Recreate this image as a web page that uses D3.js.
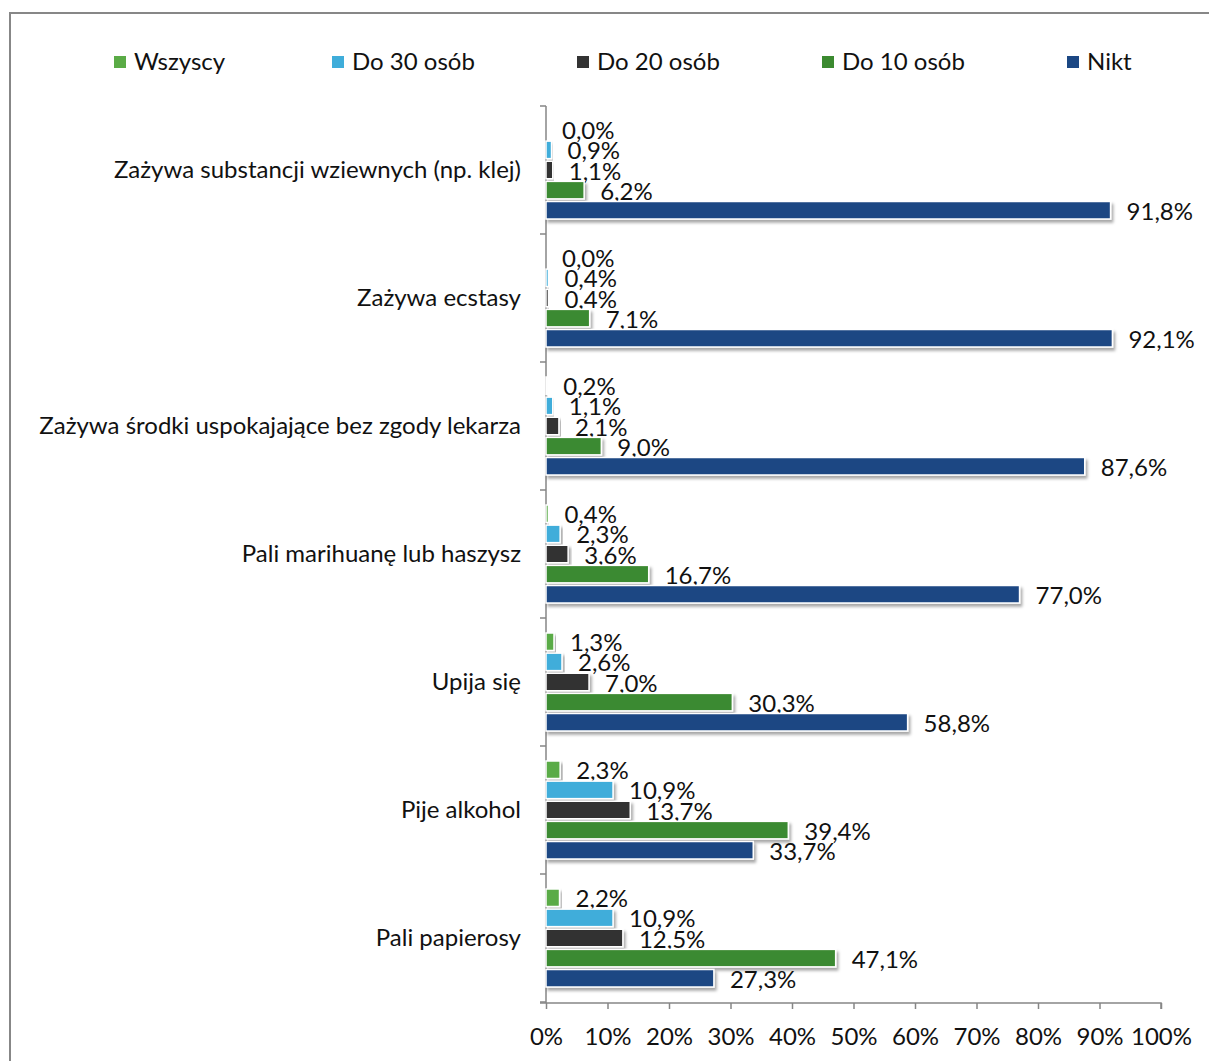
<!DOCTYPE html>
<html><head><meta charset="utf-8">
<script src="https://cdn.jsdelivr.net/npm/d3@7"></script>
<style>body{margin:0;background:#fff}svg{display:block}text{font-family:Lato,"Open Sans",sans-serif;fill:#111}</style>
</head><body>
<svg id="c" width="1209" height="1061"></svg>
<script>
const categories = [
  "Zażywa substancji wziewnych (np. klej)",
  "Zażywa ecstasy",
  "Zażywa środki uspokajające bez zgody lekarza",
  "Pali marihuanę lub haszysz",
  "Upija się",
  "Pije alkohol",
  "Pali papierosy"
];
const seriesNames = ["Wszyscy", "Do 30 osób", "Do 20 osób", "Do 10 osób", "Nikt"];
const wszyscy  = [0.0, 0.0, 0.2, 0.4, 1.3, 2.3, 2.2];
const do30     = [0.9, 0.4, 1.1, 2.3, 2.6, 10.9, 10.9];
const do20     = [1.1, 0.4, 2.1, 3.6, 7.0, 13.7, 12.5];
const do10     = [6.2, 7.1, 9.0, 16.7, 30.3, 39.4, 47.1];
const nikt     = [91.8, 92.1, 87.6, 77.0, 58.8, 33.7, 27.3];
const seriesValues = [wszyscy, do30, do20, do10, nikt];
const xTicks = [0, 10, 20, 30, 40, 50, 60, 70, 80, 90, 100];
const colors = ["#5aab46", "#3fadda", "#333333", "#3b8a30", "#1b4783"];
const FS = "24px";

const svg = d3.select("#c");
const defs = svg.append("defs");
const f = defs.append("filter").attr("id","sh").attr("x","-5%").attr("y","-50%").attr("width","120%").attr("height","250%");
f.append("feDropShadow").attr("dx",2).attr("dy",3).attr("stdDeviation",1.8).attr("flood-color","#000").attr("flood-opacity",0.35);

// frame
svg.append("rect").attr("x",10).attr("y",13).attr("width",1260).attr("height",1100)
  .attr("fill","none").attr("stroke","#878787").attr("stroke-width",2);

const x = d3.scaleLinear().domain([0,100]).range([546,1161]);
const y = d3.scaleBand().domain(categories).range([106,1002]);
const ySub = d3.scaleBand().domain(seriesNames).range([15,113]).paddingInner(0.13).paddingOuter(0);

// axes
const xAxis = d3.axisBottom(x).tickValues(xTicks).tickFormat(d=>d+"%").tickSize(6).tickPadding(19);
const gx = svg.append("g").attr("transform","translate(0,1003)").call(xAxis);
gx.select(".domain").attr("stroke","#868686").attr("stroke-width",1.5).attr("d","M540,0H1161V6");
gx.selectAll(".tick line").attr("stroke","#868686").attr("stroke-width",1.5);
gx.selectAll(".tick text").style("font-family","Lato").style("font-size",FS).attr("fill","#111");

const yAxis = d3.axisLeft(y).tickSize(0).tickPadding(25);
const gy = svg.append("g").attr("transform","translate(546,0)").call(yAxis);
gy.select(".domain").remove();
gy.selectAll(".tick text").style("font-family","Lato").style("font-size",FS).attr("fill","#111");
// category boundary ticks
const bounds = categories.map(c=>y(c)).concat([y.range()[1]]);
svg.append("g").selectAll("line").data(bounds).join("line")
  .attr("x1",540).attr("x2",546).attr("y1",d=>d).attr("y2",d=>d)
  .attr("stroke","#868686").attr("stroke-width",1.5);
svg.append("line").attr("x1",546).attr("x2",546).attr("y1",106).attr("y2",1003)
  .attr("stroke","#868686").attr("stroke-width",1.5);

// bars
const groups = svg.append("g").selectAll("g").data(categories).join("g")
  .attr("transform",c=>`translate(0,${y(c)})`);
groups.each(function(c,ci){
  const g = d3.select(this);
  seriesNames.forEach((s,si)=>{
    const v = seriesValues[si][ci];
    g.append("rect").attr("x",x(0)).attr("y",ySub(s))
      .attr("width",Math.max(x(v)-x(0),0)).attr("height",ySub.bandwidth())
      .attr("fill",colors[si]).attr("stroke","#fff").attr("stroke-width",1.5)
      .attr("filter","url(#sh)");
    g.append("text").attr("x",x(v)+16).attr("y",ySub(s)+ySub.bandwidth()/2)
      .attr("dy","0.4em").style("font-size",FS)
      .text(v.toFixed(1).replace(".",",")+"%");
  });
});

// legend
const legX = [114, 332, 577, 822, 1067];
const leg = svg.append("g").selectAll("g").data(seriesNames).join("g")
  .attr("transform",(d,i)=>`translate(${legX[i]},62)`);
leg.append("rect").attr("x",0).attr("y",-6).attr("width",12).attr("height",12).attr("fill",(d,i)=>colors[i]);
leg.append("text").attr("x",20).attr("y",0).attr("dy","0.35em").style("font-size",FS).text(d=>d);
</script>
</body></html>
